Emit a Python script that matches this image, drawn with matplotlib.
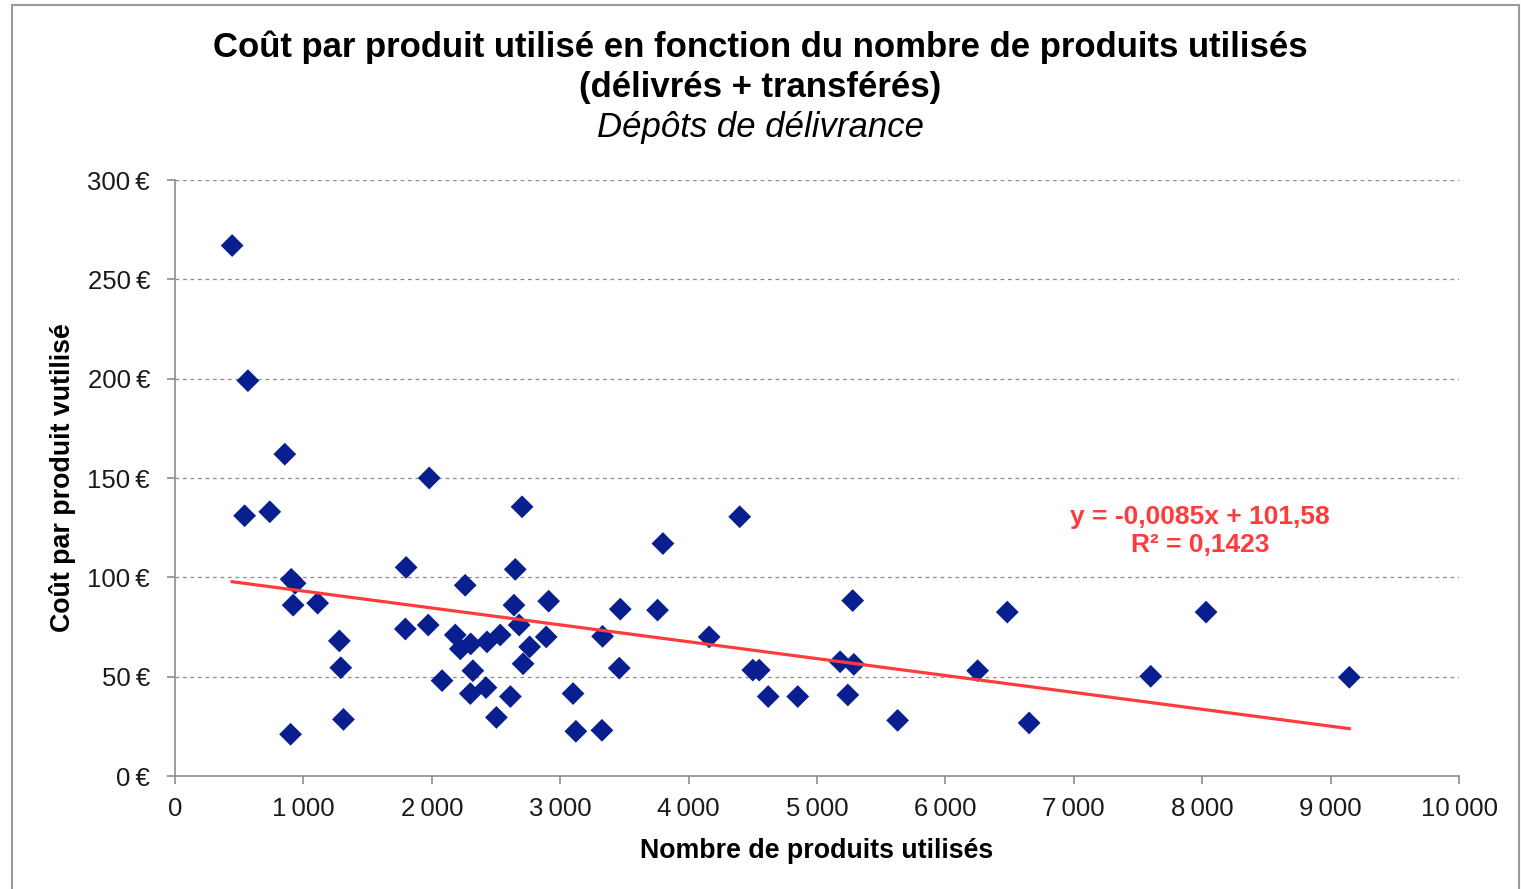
import matplotlib
matplotlib.use("Agg")
import matplotlib.pyplot as plt
from matplotlib.patches import Rectangle
from matplotlib.ticker import FuncFormatter
import numpy as np

plt.rcParams['font.family'] = ['Liberation Sans', 'DejaVu Sans']

# Nombre de produits utilisés (délivrés + transférés) par dépôt
nb_produits = [
    445, 568, 855, 542, 738, 905, 935, 920, 1111, 1280, 1291, 1312, 900,
    1800, 1980, 1794, 1972, 2260, 2080, 2183, 2222, 2303, 2320, 2300, 2422,
    2430, 2533, 2503, 2612, 2650, 2640, 2680, 2703, 2762, 2711, 2910, 2891,
    3100, 3122, 3325, 3330, 3468, 3460, 3800, 3758, 4160, 4398, 4500, 4550,
    4620, 4850, 5180, 5287, 5278, 5240, 5628, 6251, 6482, 6652, 7599, 8030,
    9146,
]
# Coût par produit utilisé (€)
cout_produit = [
    267, 199, 162, 131, 133, 99, 97, 86, 87, 68, 54.5, 28.5, 21,
    105, 150, 74, 76, 96, 48, 71, 64, 66.5, 53, 41.5, 44.5,
    67.5, 71, 29.5, 40, 104, 86, 76, 135.5, 65, 56.5, 88, 70,
    41.5, 22.5, 23, 70.3, 84, 54.3, 117, 83.5, 70, 130.5, 53.3, 53.3,
    40, 40, 57.5, 56.2, 88.3, 40.8, 28, 53, 82.5, 26.7, 50.2, 82.5,
    49.7,
]

# Courbe de tendance linéaire (Excel)
pente = -0.0085
ordonnee = 101.58
r2 = 0.1423

x_ticks = [0, 1000, 2000, 3000, 4000, 5000, 6000, 7000, 8000, 9000, 10000]
y_ticks = [0, 50, 100, 150, 200, 250, 300]

W, H = 1521, 889
fig = plt.figure(figsize=(W / 100, H / 100), dpi=100)
fig.patch.set_facecolor('white')

# cadre gris de la zone de graphique
fig.add_artist(Rectangle((12 / W, -0.01), (1519 - 12) / W, 1.01 - 5 / H,
                         transform=fig.transFigure, fill=False,
                         edgecolor='#9a9a9a', linewidth=1.5))

ax = fig.add_axes([175 / W, (H - 776) / H, (1459 - 175) / W, (776 - 180) / H])

ax.scatter(nb_produits, cout_produit, marker='D', s=135, color='#0A1F8F',
           edgecolors='none', zorder=3)

x_fit = np.array([min(nb_produits), max(nb_produits)])
ax.plot(x_fit, pente * x_fit + ordonnee, color='#FF3B3B', linewidth=2.3,
        zorder=4)

eq = f"y = {pente:.4f}x + {ordonnee:.2f}".replace('.', ',')
ax.text(7983, 123.3, eq + "\n" + f"R² = {r2:.4f}".replace('.', ','),
        color='#FF3B3B', fontsize=19, fontweight='bold', ha='center',
        va='center', linespacing=1.2)

ax.set_xlim(0, 10000)
ax.set_ylim(0, 300)
ax.set_xticks(x_ticks)
ax.set_yticks(y_ticks)
ax.xaxis.set_major_formatter(FuncFormatter(
    lambda v, p: f"{int(v):,}".replace(',', '\u2009')))
ax.yaxis.set_major_formatter(FuncFormatter(lambda v, p: f"{int(v)}\u2009€"))

ax.grid(axis='y', linestyle=(0, (3, 3)), color='#8c8c8c', linewidth=0.9)
ax.set_axisbelow(True)
for side in ('top', 'right'):
    ax.spines[side].set_visible(False)
for side in ('left', 'bottom'):
    ax.spines[side].set_color('#8c8c8c')
    ax.spines[side].set_linewidth(1.2)
ax.tick_params(axis='both', colors='#8c8c8c', labelcolor='#1a1a1a',
               labelsize=18.5, length=6, width=1.2)
ax.tick_params(axis='x', pad=9)
ax.tick_params(axis='y', pad=12)

ax.set_xlabel("Nombre de produits utilisés", fontsize=19.3,
              fontweight='bold', labelpad=12)
ax.set_ylabel("Coût par produit vutilisé", fontsize=19.3,
              fontweight='bold', labelpad=8)

fig.text(0.5, 1 - 47 / H,
         "Coût par produit utilisé en fonction du nombre de produits utilisés",
         ha='center', va='center', fontsize=25, fontweight='bold')
fig.text(0.5, 1 - 88 / H, "(délivrés + transférés)", ha='center',
         va='center', fontsize=25, fontweight='bold')
fig.text(0.5, 1 - 127 / H, "Dépôts de délivrance", ha='center',
         va='center', fontsize=25, style='italic')

fig.savefig("out.png", dpi=100, facecolor='white')
